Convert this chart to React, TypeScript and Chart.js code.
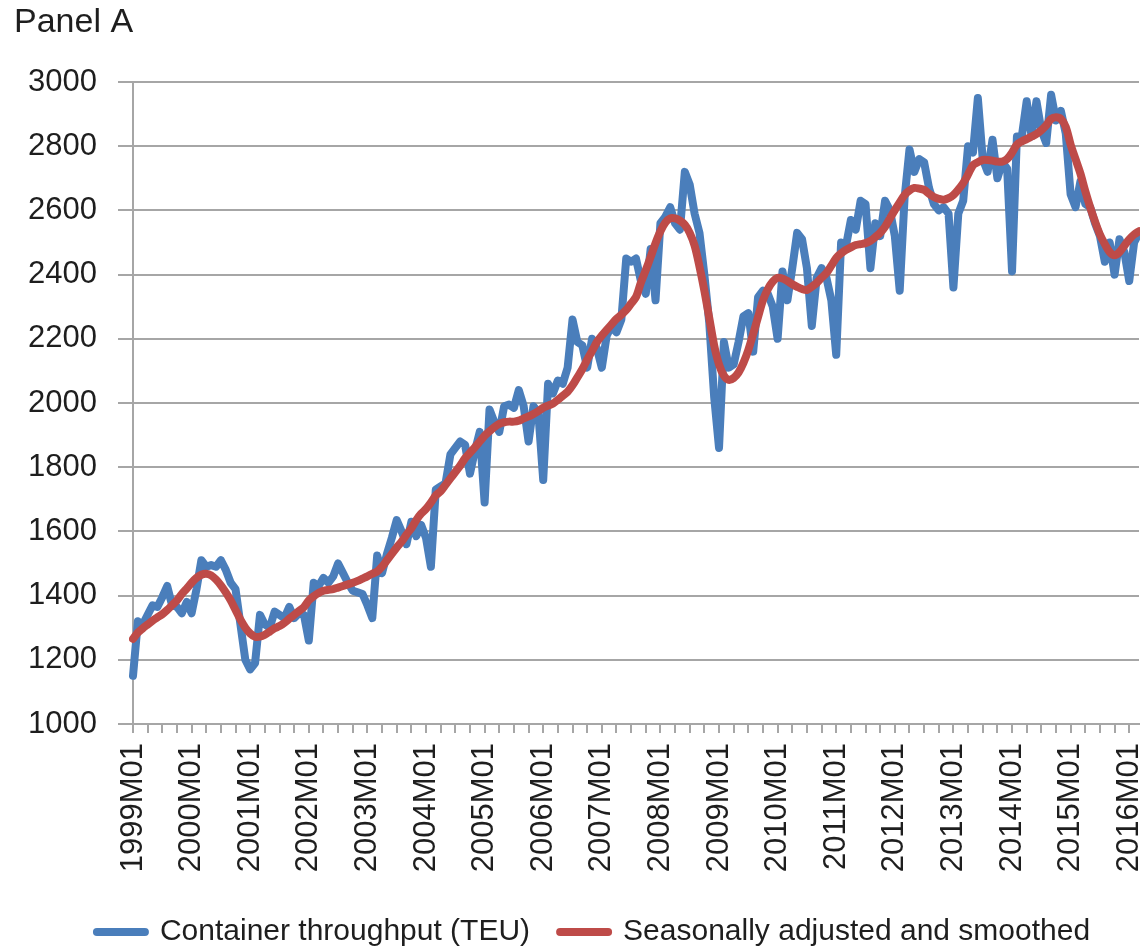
import React, { useEffect, useRef } from 'react';
import { Chart, registerables } from 'chart.js';

Chart.register(...registerables);

const PANEL_TITLE = 'Panel A';
const SERIES_NAMES = ['Container throughput (TEU)', 'Seasonally adjusted and smoothed'];

const FIRST_YEAR = 1999;
const N_POINTS = 207; // 1999M01 .. 2016M03
const categories: string[] = [];
for (let y = FIRST_YEAR; categories.length < N_POINTS; y++) {
  for (let m = 1; m <= 12 && categories.length < N_POINTS; m++) {
    categories.push(`${y}M${String(m).padStart(2, '0')}`);
  }
}

const yTicks = [1000, 1200, 1400, 1600, 1800, 2000, 2200, 2400, 2600, 2800, 3000];

// Container throughput (TEU), monthly
const throughput = [
  1150, 1320, 1310, 1340, 1370, 1365, 1395, 1430, 1370, 1365, 1345, 1380,
  1345, 1420, 1510, 1490, 1495, 1490, 1510, 1480, 1440, 1420, 1310, 1200,
  1170, 1190, 1340, 1310, 1300, 1350, 1340, 1330, 1365, 1330, 1345, 1340,
  1260, 1440, 1430, 1455, 1440, 1460, 1500, 1470, 1440, 1415, 1410, 1405,
  1370, 1330, 1525, 1470, 1530, 1580, 1635, 1600, 1560, 1630, 1585, 1620,
  1580, 1490, 1730, 1740, 1750, 1840, 1860, 1880, 1870, 1780, 1850, 1910,
  1690, 1980, 1940, 1910, 1990, 1995, 1985, 2040, 1990, 1880, 1990, 1970,
  1760, 2060, 2030, 2070, 2060, 2110, 2260, 2190, 2180, 2110, 2200, 2170,
  2110, 2210, 2240, 2220, 2260, 2450, 2440, 2450, 2380, 2340, 2480, 2320,
  2560, 2580, 2610, 2560, 2540, 2720, 2680, 2590, 2530, 2400, 2250, 2020,
  1860, 2190, 2110, 2120, 2190, 2270, 2280, 2160, 2330, 2350, 2340, 2300,
  2200, 2410, 2320, 2420, 2530, 2510, 2420, 2240, 2390, 2420, 2390, 2320,
  2150, 2500, 2490, 2570, 2540, 2630, 2620, 2420, 2560, 2520, 2630, 2600,
  2520, 2350, 2640, 2790, 2720, 2760, 2750, 2670, 2620, 2600, 2610, 2590,
  2360, 2590, 2630, 2800, 2780, 2950, 2760, 2720, 2820, 2700, 2750, 2730,
  2410, 2830, 2830, 2940, 2830, 2940, 2850, 2810, 2960, 2880, 2910, 2840,
  2650, 2610, 2690, 2620, 2610, 2560, 2520, 2440, 2500, 2400, 2510, 2470,
  2380, 2500, 2530,
];

// Seasonally adjusted and smoothed
const smoothed = [
  1265, 1285, 1298, 1310, 1322, 1332, 1342, 1355, 1370, 1385, 1405, 1422,
  1440, 1455, 1465, 1468, 1463, 1450, 1432, 1410, 1385, 1355, 1325, 1300,
  1282, 1272, 1272, 1278, 1288, 1298, 1305, 1315, 1328, 1340, 1352, 1364,
  1385, 1398, 1408, 1415, 1418, 1420, 1425, 1430, 1435, 1440, 1446, 1453,
  1460, 1468, 1475, 1490, 1510, 1530, 1550, 1568, 1590, 1610, 1635, 1655,
  1670, 1690, 1712, 1725, 1745, 1765, 1785, 1805, 1828, 1845, 1862, 1880,
  1898, 1912, 1925, 1935, 1940, 1942, 1942, 1945, 1952, 1958, 1966, 1975,
  1985, 1992, 1998, 2010, 2022, 2035, 2055, 2080, 2105, 2135, 2162, 2190,
  2210, 2228, 2245, 2262, 2275, 2290, 2310, 2330, 2375, 2414, 2455, 2498,
  2535, 2562, 2575, 2575, 2568, 2555, 2530, 2490, 2425, 2350, 2265, 2180,
  2120, 2085, 2072, 2078, 2095, 2125, 2165, 2215, 2268, 2320, 2355, 2378,
  2390, 2388, 2380, 2370, 2362, 2355, 2352, 2362, 2374, 2390, 2405, 2428,
  2452, 2466, 2477, 2485, 2492, 2495, 2498, 2505, 2517, 2530, 2549, 2575,
  2601, 2625, 2648, 2662, 2670, 2668, 2664, 2652, 2642, 2636, 2633, 2638,
  2648, 2665, 2685, 2712, 2741, 2750, 2757, 2757, 2755, 2752, 2752, 2760,
  2780, 2805, 2815, 2822, 2830, 2838, 2850, 2865, 2885, 2890, 2885, 2860,
  2805, 2760, 2715, 2660, 2610, 2565, 2525, 2495, 2470, 2460, 2470, 2490,
  2510, 2525, 2535,
];

const FONT = "'Liberation Sans', Arial, sans-serif";
const GRID = '#a6a6a6';
const TEXT = '#1e1e1e';
const BLUE = '#4a7ebb';
const RED = '#be4b48';

const titlePlugin = {
  id: 'panelTitle',
  afterLayout(chart: any) {
    const lg = chart.legend;
    if (lg) {
      lg.left += 24;
      lg.right += 24;
    }
  },
  afterDraw(chart: any) {
    const ctx = chart.ctx;
    ctx.save();
    ctx.font = `34px ${FONT}`;
    ctx.fillStyle = TEXT;
    ctx.textAlign = 'left';
    ctx.textBaseline = 'middle';
    ctx.fillText(PANEL_TITLE, 14, 23);
    ctx.restore();
  },
};

export default function App() {
  const ref = useRef<HTMLCanvasElement | null>(null);

  useEffect(() => {
    if (!ref.current) return;
    const chart = new Chart(ref.current, {
      type: 'line',
      data: {
        labels: categories,
        datasets: [
          {
            label: SERIES_NAMES[0],
            data: throughput,
            borderColor: BLUE,
            backgroundColor: BLUE,
            borderWidth: 8,
            pointRadius: 0,
            tension: 0,
            borderJoinStyle: 'round',
            borderCapStyle: 'round',
            order: 2,
          },
          {
            label: SERIES_NAMES[1],
            data: smoothed,
            borderColor: RED,
            backgroundColor: RED,
            borderWidth: 8,
            pointRadius: 0,
            tension: 0.3,
            borderJoinStyle: 'round',
            borderCapStyle: 'round',
            order: 1,
          },
        ],
      },
      options: {
        responsive: false,
        animation: false,
        layout: { padding: { left: 0, right: 1, top: 82, bottom: -5 } },
        plugins: {
          legend: {
            position: 'bottom',
            labels: {
              usePointStyle: true,
              pointStyle: 'line',
              pointStyleWidth: 48,
              padding: 30,
              color: TEXT,
              font: { family: FONT, size: 30 },
              sort: (a: any, b: any) => a.datasetIndex - b.datasetIndex,
              generateLabels: (chart: any) => {
                const items = (Chart as any).defaults.plugins.legend.labels.generateLabels(chart);
                items.forEach((it: any) => {
                  it.lineCap = 'round';
                  it.lineWidth = 8;
                });
                return items;
              },
            },
          },
          tooltip: { enabled: false },
          title: { display: false },
        },
        scales: {
          x: {
            type: 'category',
            offset: false,
            grid: {
              display: true,
              drawOnChartArea: false,
              drawTicks: true,
              tickLength: 9,
              lineWidth: 2,
              color: (c: any) => (c.index % 3 === 0 ? GRID : 'rgba(0,0,0,0)'),
            },
            border: { display: true, color: GRID, width: 2 },
            ticks: {
              autoSkip: false,
              maxRotation: 90,
              minRotation: 90,
              padding: 10,
              color: TEXT,
              font: { family: FONT, size: 31 },
              callback: (_v: any, i: number) => (i % 12 === 0 ? categories[i] : ''),
            },
            afterFit: (s: any) => {
              s.height = 163;
              s.paddingLeft = 0;
              s.paddingRight = 0;
            },
          },
          y: {
            min: yTicks[0],
            max: yTicks[yTicks.length - 1],
            ticks: {
              stepSize: yTicks[1] - yTicks[0],
              padding: 21,
              color: TEXT,
              font: { family: FONT, size: 31 },
              callback: (v: any) => String(v),
            },
            grid: { color: GRID, lineWidth: 2, tickLength: 15, drawTicks: true },
            border: { display: true, color: GRID, width: 2 },
            afterFit: (s: any) => {
              s.width = 133;
              s.paddingTop = 0;
              s.paddingBottom = 0;
            },
          },
        },
      },
      plugins: [titlePlugin],
    } as any);
    return () => chart.destroy();
  }, []);

  return (
    <canvas
      ref={ref}
      width={1140}
      height={952}
      style={{ position: 'absolute', left: 0, top: 0, width: 1140, height: 952 }}
    />
  );
}
